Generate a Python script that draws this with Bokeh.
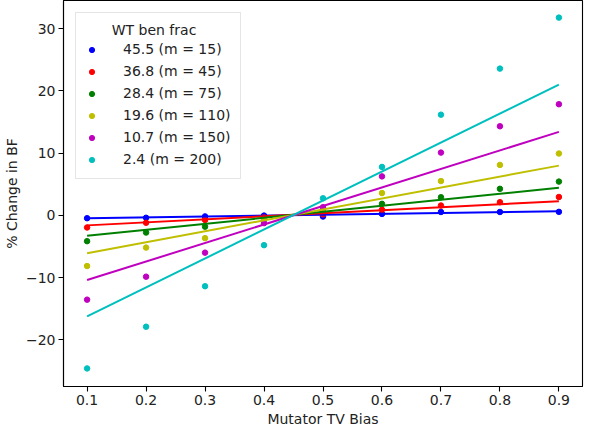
from bokeh.plotting import figure
from bokeh.models import Range1d, FixedTicker, Legend, LegendItem
from bokeh.embed import file_html
from bokeh.resources import INLINE

# ---- data ----
tv_bias = [0.1, 0.2, 0.3, 0.4, 0.5, 0.6, 0.7, 0.8, 0.9]

labels = ["45.5 (m = 15)", "36.8 (m = 45)", "28.4 (m = 75)",
          "19.6 (m = 110)", "10.7 (m = 150)", "2.4 (m = 200)"]

s_45_5 = [-0.47, -0.40, -0.18, -0.05, -0.20, 0.22, 0.53, 0.53, 0.55]
s_36_8 = [-1.96, -1.20, -0.75, -0.30, 0.15, 0.90, 1.57, 2.10, 2.94]
s_28_4 = [-4.16, -2.77, -1.83, -0.50, 0.50, 1.84, 2.90, 4.25, 5.41]
s_19_6 = [-8.15, -5.19, -3.67, -0.68, 1.00, 3.57, 5.50, 8.09, 9.92]
s_10_7 = [-13.55, -9.86, -6.00, -1.26, 1.30, 6.25, 10.07, 14.30, 17.84]
s_2_4 = [-24.6, -17.9, -11.4, -4.8, 2.73, 7.77, 16.16, 23.56, 31.75]

# fitted line values at first and last bias
line_start = [-0.47, -1.62, -3.30, -6.08, -10.4, -16.25]
line_end = [0.63, 2.27, 4.41, 7.98, 13.4, 21.0]

y_ticks = [-20, -10, 0, 10, 20, 30]
legend_title = "WT ben frac"

series = [s_45_5, s_36_8, s_28_4, s_19_6, s_10_7, s_2_4]
colors = ["#0000ff", "#ff0000", "#008000", "#bfbf00", "#bf00bf", "#00bfbf"]

FONT = "DejaVu Sans"

p = figure(width=584, height=429, output_backend="svg", toolbar_location=None,
           x_range=Range1d(0.06, 0.94), y_range=Range1d(-27.5, 34.5),
           min_border_left=62, min_border_right=2, min_border_top=0, min_border_bottom=36)

p.xgrid.visible = False
p.ygrid.visible = False
p.outline_line_color = "black"
p.outline_line_width = 1.1
p.background_fill_color = "white"
p.border_fill_color = "white"

items = []
for ys, col, lab in zip(series, colors, labels):
    r = p.scatter(tv_bias, ys, size=5.5, color=col, marker="circle")
    items.append(LegendItem(label=lab, renderers=[r]))
for col, a, b in zip(colors, line_start, line_end):
    p.line([tv_bias[0], tv_bias[-1]], [a, b], line_color=col, line_width=2)

for ax in (p.xaxis[0], p.yaxis[0]):
    ax.axis_line_color = "black"
    ax.axis_line_width = 1.1
    ax.major_tick_line_color = "black"
    ax.major_tick_line_width = 1.1
    ax.major_tick_out = 5
    ax.major_tick_in = 0
    ax.minor_tick_out = 0
    ax.minor_tick_in = 0
    ax.major_label_text_font = FONT
    ax.major_label_text_font_size = "14px"
    ax.major_label_text_color = "#222222"
    ax.axis_label_text_font = FONT
    ax.axis_label_text_font_size = "14px"
    ax.axis_label_text_font_style = "normal"
    ax.axis_label_text_color = "#222222"
    ax.major_label_standoff = 3
    ax.axis_label_standoff = 3

p.xaxis.ticker = FixedTicker(ticks=tv_bias)
p.yaxis.ticker = FixedTicker(ticks=y_ticks)
p.yaxis.major_label_overrides = {t: (str(t).replace("-", "\u2212")) for t in y_ticks}
p.xaxis.axis_label = "Mutator TV Bias"
p.yaxis.axis_label = "% Change in BF"

# non-breaking spaces indent the title so it sits centred over the entries
legend = Legend(items=items, location="top_left", title="\u00a0" * 6 + legend_title)
legend.margin = 12
legend.padding = 9
legend.spacing = 2
legend.label_height = 20
legend.glyph_height = 13
legend.glyph_width = 13
legend.label_standoff = 25
legend.label_text_font = FONT
legend.label_text_font_size = "14px"
legend.label_text_color = "#222222"
legend.title_text_font = FONT
legend.title_text_font_size = "14px"
legend.title_text_font_style = "normal"
legend.title_text_color = "#222222"
legend.title_standoff = 1
legend.border_line_color = "#cccccc"
legend.border_line_width = 1
legend.background_fill_alpha = 0.8
p.add_layout(legend)

open("out.html", "w").write(file_html(p, INLINE))
